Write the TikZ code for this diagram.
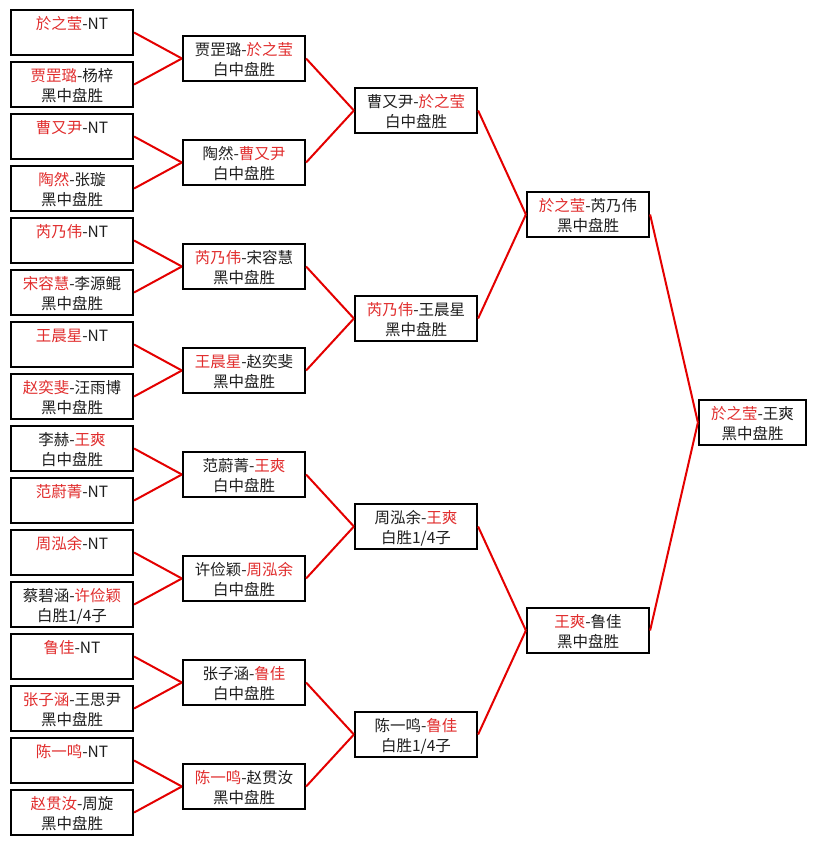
\documentclass[tikz,border=0pt]{standalone}
\usepackage{fontspec}
\setmainfont{Noto Sans CJK SC}
\usetikzlibrary{calc}
\definecolor{wred}{RGB}{225,45,45}
\definecolor{lred}{RGB}{228,0,0}
\definecolor{txt}{RGB}{30,30,30}
\tikzset{
  box/.style={draw=black, line width=2.2pt, minimum height=45pt, inner sep=0pt, fill=white},
  wbox/.style={box, minimum width=122pt},
  fbox/.style={box, minimum width=107pt},
  ln/.style={anchor=base, font=\fontsize{15.5}{18}\selectfont, text=txt, inner sep=0pt},
  conn/.style={draw=lred, line width=2pt},
}
\newcommand{\Rd}[1]{\textcolor{wred}{#1}}
\newcommand{\gameA}[5]{%
  \node[#2] (#1) at (#3,#4) {};
  \node[ln] (#1-a) at ($(#1.north)+(0,21)$) {#5};
}
\newcommand{\gameB}[6]{%
  \node[#2] (#1) at (#3,#4) {};
  \node[ln] (#1-a) at ($(#1.north)+(0,21)$) {#5};
  \node[ln] (#1-b) at ($(#1.north)+(0,41)$) {#6};
}
\begin{document}
\begin{tikzpicture}[x=1pt, y=-1pt]
\fill[white] (0,0) rectangle (816,845);
\useasboundingbox (0,0) rectangle (816,845);
% Round 1
\gameA{a1}{wbox}{72}{32.5}{\Rd{於之莹}-NT}
\gameB{a2}{wbox}{72}{84.5}{\Rd{贾罡璐}-杨梓}{黑中盘胜}
\gameA{a3}{wbox}{72}{136.5}{\Rd{曹又尹}-NT}
\gameB{a4}{wbox}{72}{188.5}{\Rd{陶然}-张璇}{黑中盘胜}
\gameA{a5}{wbox}{72}{240.5}{\Rd{芮乃伟}-NT}
\gameB{a6}{wbox}{72}{292.5}{\Rd{宋容慧}-李源鲲}{黑中盘胜}
\gameA{a7}{wbox}{72}{344.5}{\Rd{王晨星}-NT}
\gameB{a8}{wbox}{72}{396.5}{\Rd{赵奕斐}-汪雨博}{黑中盘胜}
\gameB{a9}{wbox}{72}{448.5}{李赫-\Rd{王爽}}{白中盘胜}
\gameA{a10}{wbox}{72}{500.5}{\Rd{范蔚菁}-NT}
\gameA{a11}{wbox}{72}{552.5}{\Rd{周泓余}-NT}
\gameB{a12}{wbox}{72}{604.5}{蔡碧涵-\Rd{许俭颖}}{白胜1/4子}
\gameA{a13}{wbox}{72}{656.5}{\Rd{鲁佳}-NT}
\gameB{a14}{wbox}{72}{708.5}{\Rd{张子涵}-王思尹}{黑中盘胜}
\gameA{a15}{wbox}{72}{760.5}{\Rd{陈一鸣}-NT}
\gameB{a16}{wbox}{72}{812.5}{\Rd{赵贯汝}-周旋}{黑中盘胜}
% Round 2
\gameB{b1}{wbox}{244}{58.5}{贾罡璐-\Rd{於之莹}}{白中盘胜}
\gameB{b2}{wbox}{244}{162.5}{陶然-\Rd{曹又尹}}{白中盘胜}
\gameB{b3}{wbox}{244}{266.5}{\Rd{芮乃伟}-宋容慧}{黑中盘胜}
\gameB{b4}{wbox}{244}{370.5}{\Rd{王晨星}-赵奕斐}{黑中盘胜}
\gameB{b5}{wbox}{244}{474.5}{范蔚菁-\Rd{王爽}}{白中盘胜}
\gameB{b6}{wbox}{244}{578.5}{许俭颖-\Rd{周泓余}}{白中盘胜}
\gameB{b7}{wbox}{244}{682.5}{张子涵-\Rd{鲁佳}}{白中盘胜}
\gameB{b8}{wbox}{244}{786.5}{\Rd{陈一鸣}-赵贯汝}{黑中盘胜}
% Round 3
\gameB{c1}{wbox}{416}{110.5}{曹又尹-\Rd{於之莹}}{白中盘胜}
\gameB{c2}{wbox}{416}{318.5}{\Rd{芮乃伟}-王晨星}{黑中盘胜}
\gameB{c3}{wbox}{416}{526.5}{周泓余-\Rd{王爽}}{白胜1/4子}
\gameB{c4}{wbox}{416}{734.5}{陈一鸣-\Rd{鲁佳}}{白胜1/4子}
% Round 4
\gameB{d1}{wbox}{588}{214.5}{\Rd{於之莹}-芮乃伟}{黑中盘胜}
\gameB{d2}{wbox}{588}{630.5}{\Rd{王爽}-鲁佳}{黑中盘胜}
% Final
\gameB{f}{fbox}{752.5}{422.5}{\Rd{於之莹}-王爽}{黑中盘胜}
% Connectors
\foreach \i/\j in {1/1,2/1,3/2,4/2,5/3,6/3,7/4,8/4,9/5,10/5,11/6,12/6,13/7,14/7,15/8,16/8}
  \draw[conn] (a\i.east) -- (b\j.west);
\foreach \i/\j in {1/1,2/1,3/2,4/2,5/3,6/3,7/4,8/4}
  \draw[conn] (b\i.east) -- (c\j.west);
\foreach \i/\j in {1/1,2/1,3/2,4/2}
  \draw[conn] (c\i.east) -- (d\j.west);
\draw[conn] (d1.east) -- (f.west);
\draw[conn] (d2.east) -- (f.west);
\end{tikzpicture}
\end{document}
